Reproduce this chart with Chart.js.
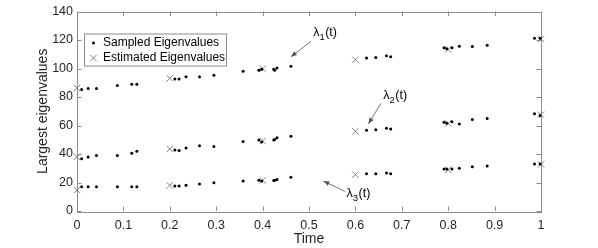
<!DOCTYPE html>
<html>
<head>
<meta charset="utf-8">
<script src="https://cdn.jsdelivr.net/npm/chart.js@4/dist/chart.umd.min.js"></script>
<style>
  html, body { margin: 0; padding: 0; background: #fff; }
  #chart { display: block; }
</style>
</head>
<body>
<canvas id="chart" width="598" height="248"></canvas>
<script>
// 采样时刻（三条曲线共用）
const sampledTime = [0.010, 0.024, 0.042, 0.087, 0.118, 0.129, 0.211, 0.220, 0.235, 0.264,
    0.295, 0.358, 0.392, 0.398, 0.424, 0.426, 0.431, 0.461, 0.624, 0.644,
    0.667, 0.676, 0.791, 0.797, 0.808, 0.824, 0.852, 0.884, 0.986, 0.998];

// 采样特征值
const sampledLambda1 = [85.2, 85.9, 85.9, 88.1, 89.0, 89.0, 92.6, 92.6, 94.2, 94.2,
    95.3, 98.0, 98.7, 99.4, 99.4, 98.7, 100.3, 101.6, 107.3, 107.7,
    108.9, 108.2, 114.5, 113.8, 114.5, 115.6, 115.4, 116.3, 121.2, 121.2];
const sampledLambda2 = [36.7, 37.9, 39.0, 39.0, 40.6, 41.9, 42.8, 42.4, 44.2, 45.8,
    45.3, 48.7, 49.8, 48.5, 49.8, 50.2, 51.4, 52.5, 56.6, 57.0,
    58.1, 57.5, 62.2, 61.5, 62.7, 61.1, 64.2, 64.9, 68.3, 67.1];
const sampledLambda3 = [17.1, 17.1, 17.1, 17.1, 17.1, 17.1, 17.6, 17.6, 18.0, 18.9,
    19.8, 21.0, 21.6, 21.0, 21.4, 21.6, 22.1, 23.7, 26.2, 26.2,
    26.6, 26.2, 29.5, 29.5, 29.5, 30.0, 31.1, 31.6, 32.9, 32.9];

// 估计特征值
const estimatedTime = [0, 0.2, 0.4, 0.6, 0.8, 1];
const estimatedLambda1 = [86.3, 93.1, 99.8, 106.2, 113.4, 120.8];
const estimatedLambda2 = [38.0, 43.5, 49.2, 55.9, 61.5, 67.6];
const estimatedLambda3 = [14.7, 18.0, 21.5, 25.5, 28.9, 32.7];

// 坐标轴刻度标签
const xTickLabels = ['0', '0.1', '0.2', '0.3', '0.4', '0.5', '0.6', '0.7', '0.8', '0.9', '1'];
const yTickLabels = ['0', '20', '40', '60', '80', '100', '120', '140'];

// 曲线标注 (文字位置与箭头, 数据坐标)
const curveNotes = [
    { name: '\u03bb', sub: '1', tx: 0.509, ty: 123.1, from: [0.504, 119.0], to: [0.461, 108.2] },
    { name: '\u03bb', sub: '2', tx: 0.660, ty: 78.4, from: [0.655, 75.5], to: [0.628, 61.1] },
    { name: '\u03bb', sub: '3', tx: 0.581, ty: 9.7, from: [0.578, 13.7], to: [0.531, 21.0] }
];

const FONT = '"Liberation Sans", Arial, Helvetica, sans-serif';
const AXIS_COLOR = '#8c8c8c';
const TEXT_COLOR = '#262626';
const CROSS_COLOR = '#808080';

function toPoints(xs, ys) {
    return xs.map((x, i) => ({ x: x, y: ys[i] }));
}

const sampledPoints = [].concat(
    toPoints(sampledTime, sampledLambda1),
    toPoints(sampledTime, sampledLambda2),
    toPoints(sampledTime, sampledLambda3)
);
const estimatedPoints = [].concat(
    toPoints(estimatedTime, estimatedLambda1),
    toPoints(estimatedTime, estimatedLambda2),
    toPoints(estimatedTime, estimatedLambda3)
);

// 边框和朝内的刻度线
const boxPlugin = {
    id: 'boxPlugin',
    beforeDatasetsDraw(chart) {
        const { ctx, chartArea: a, scales } = chart;
        const len = 4.5;
        ctx.save();
        ctx.strokeStyle = AXIS_COLOR;
        ctx.lineWidth = 1;
        ctx.beginPath();
        scales.x.ticks.forEach(t => {
            const px = Math.round(scales.x.getPixelForValue(t.value)) + 0.5;
            ctx.moveTo(px, a.bottom);
            ctx.lineTo(px, a.bottom - len);
            ctx.moveTo(px, a.top);
            ctx.lineTo(px, a.top + len);
        });
        scales.y.ticks.forEach(t => {
            const py = Math.round(scales.y.getPixelForValue(t.value)) + 0.5;
            ctx.moveTo(a.left, py);
            ctx.lineTo(a.left + len, py);
            ctx.moveTo(a.right, py);
            ctx.lineTo(a.right - len, py);
        });
        ctx.stroke();
        ctx.strokeRect(Math.round(a.left) + 0.5, Math.round(a.top) + 0.5,
            Math.round(a.right - a.left), Math.round(a.bottom - a.top));
        ctx.restore();
    }
};

// 图例（在绘图区内）
const legendPlugin = {
    id: 'legendPlugin',
    afterDatasetsDraw(chart) {
        const { ctx, chartArea: a } = chart;
        const x0 = a.left + 7, y0 = a.top + 22, w = 142, h = 32;
        ctx.save();
        ctx.fillStyle = '#fff';
        ctx.fillRect(x0, y0, w, h);
        ctx.strokeStyle = AXIS_COLOR;
        ctx.lineWidth = 1;
        ctx.strokeRect(x0 + 0.5, y0 + 0.5, w, h);
        ctx.font = '12px ' + FONT;
        ctx.textBaseline = 'middle';
        chart.data.datasets.forEach((ds, i) => {
            const cy = y0 + 9.5 + i * 15;
            const mx = x0 + 9.5;
            ctx.fillStyle = ds.backgroundColor;
            ctx.strokeStyle = ds.borderColor;
            ctx.lineWidth = ds.borderWidth;
            ctx.beginPath();
            if (ds.pointStyle === 'circle') {
                ctx.arc(mx, cy, ds.pointRadius, 0, Math.PI * 2);
                ctx.fill();
            } else {
                const o = ds.pointRadius * Math.SQRT1_2;
                ctx.moveTo(mx - o, cy - o); ctx.lineTo(mx + o, cy + o);
                ctx.moveTo(mx - o, cy + o); ctx.lineTo(mx + o, cy - o);
                ctx.stroke();
            }
            ctx.fillStyle = '#000';
            ctx.fillText(ds.label, x0 + 19, cy);
        });
        ctx.restore();
    }
};

// λ(t) 标注与箭头
const notesPlugin = {
    id: 'notesPlugin',
    afterDatasetsDraw(chart) {
        const { ctx, scales } = chart;
        const sx = scales.x, sy = scales.y;
        ctx.save();
        curveNotes.forEach(n => {
            const x1 = sx.getPixelForValue(n.from[0]), y1 = sy.getPixelForValue(n.from[1]);
            const x2 = sx.getPixelForValue(n.to[0]), y2 = sy.getPixelForValue(n.to[1]);
            ctx.strokeStyle = '#555';
            ctx.fillStyle = '#555';
            ctx.lineWidth = 0.8;
            ctx.beginPath();
            ctx.moveTo(x1, y1);
            ctx.lineTo(x2, y2);
            ctx.stroke();
            const ang = Math.atan2(y2 - y1, x2 - x1);
            const hl = 6, hw = 2.4;
            ctx.beginPath();
            ctx.moveTo(x2, y2);
            ctx.lineTo(x2 - hl * Math.cos(ang) + hw * Math.sin(ang), y2 - hl * Math.sin(ang) - hw * Math.cos(ang));
            ctx.lineTo(x2 - hl * Math.cos(ang) - hw * Math.sin(ang), y2 - hl * Math.sin(ang) + hw * Math.cos(ang));
            ctx.closePath();
            ctx.fill();

            let tx = sx.getPixelForValue(n.tx);
            const ty = sy.getPixelForValue(n.ty);
            ctx.fillStyle = '#000';
            ctx.textBaseline = 'alphabetic';
            ctx.font = '12.5px ' + FONT;
            ctx.fillText(n.name, tx, ty);
            tx += ctx.measureText(n.name).width;
            ctx.font = '9.5px ' + FONT;
            ctx.fillText(n.sub, tx, ty + 4);
            tx += ctx.measureText(n.sub).width + 0.5;
            ctx.font = '12.5px ' + FONT;
            ctx.fillText('(t)', tx, ty);
        });
        ctx.restore();
    }
};

Chart.defaults.font.family = FONT;

const chart = new Chart(document.getElementById('chart'), {
    type: 'scatter',
    data: {
        datasets: [
            {
                label: 'Sampled Eigenvalues',
                data: sampledPoints,
                pointStyle: 'circle',
                pointRadius: 1.5,
                borderWidth: 0,
                backgroundColor: '#000',
                borderColor: '#000',
                clip: false
            },
            {
                label: 'Estimated Eigenvalues',
                data: estimatedPoints,
                pointStyle: 'crossRot',
                pointRadius: 4.5,
                borderWidth: 1,
                backgroundColor: CROSS_COLOR,
                borderColor: CROSS_COLOR,
                clip: false
            }
        ]
    },
    options: {
        responsive: false,
        animation: false,
        devicePixelRatio: 1,
        layout: { padding: { top: 4, right: 57, left: 0, bottom: 0 } },
        plugins: {
            legend: { display: false },
            tooltip: { enabled: false }
        },
        scales: {
            x: {
                type: 'linear',
                min: 0,
                max: 1,
                afterFit: s => { s.height = 37; },
                grid: { display: false, drawTicks: false },
                border: { display: false },
                ticks: {
                    stepSize: 0.1,
                    autoSkip: false,
                    maxRotation: 0,
                    padding: 7,
                    color: TEXT_COLOR,
                    font: { size: 12.5 },
                    callback: (v, i) => xTickLabels[i]
                },
                title: {
                    display: true,
                    text: 'Time',
                    color: TEXT_COLOR,
                    font: { size: 14 },
                    padding: { top: 0, bottom: 0 }
                }
            },
            y: {
                type: 'linear',
                min: 0,
                max: 140,
                afterFit: s => { s.width = 77; },
                grid: { display: false, drawTicks: false },
                border: { display: false },
                ticks: {
                    stepSize: 20,
                    padding: 4,
                    color: TEXT_COLOR,
                    font: { size: 12.5 },
                    callback: (v, i) => yTickLabels[i]
                },
                title: {
                    display: true,
                    text: 'Largest eigenvalues',
                    color: TEXT_COLOR,
                    font: { size: 14 },
                    padding: { top: 35, bottom: 0 }
                }
            }
        }
    },
    plugins: [boxPlugin, legendPlugin, notesPlugin]
});
</script>
</body>
</html>
